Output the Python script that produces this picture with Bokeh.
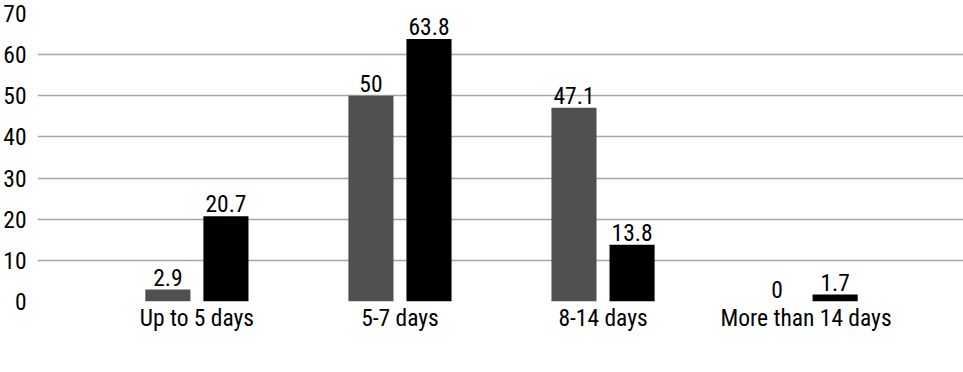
from bokeh.plotting import figure
from bokeh.models import ColumnDataSource, FactorRange, Range1d, FixedTicker, Legend, LegendItem
from bokeh.transform import dodge
from bokeh.core.properties import value
from bokeh.embed import file_html
from bokeh.resources import INLINE

categories = ["Up to 5 days", "5-7 days", "8-14 days", "More than 14 days"]
gen_x = [2.9, 50, 47.1, 0]
gen_y = [20.7, 63.8, 13.8, 1.7]
series_names = ["Generation X", "Generation Y"]
y_ticks = [0, 10, 20, 30, 40, 50, 60, 70]

FONT = "Roboto Condensed"
FS = "23.5px"
COL_X = "#505050"
COL_Y = "#000000"

src = ColumnDataSource(dict(
    cat=categories,
    gx=gen_x,
    gy=gen_y,
    lx=[f"{v:g}" for v in gen_x],
    ly=[f"{v:g}" for v in gen_y],
))

p = figure(
    x_range=FactorRange(*categories, range_padding=0.285, range_padding_units="absolute"),
    y_range=Range1d(0, 70),
    frame_width=928, frame_height=288,
    output_backend="svg", toolbar_location=None,
    min_border_top=13, min_border_left=0, min_border_right=0, min_border_bottom=0,
)
p.outline_line_color = None

rx = p.vbar(x=dodge("cat", -0.143, range=p.x_range), top="gx", width=0.222, source=src,
            fill_color=COL_X, line_color=None)
ry = p.vbar(x=dodge("cat", 0.143, range=p.x_range), top="gy", width=0.222, source=src,
            fill_color=COL_Y, line_color=None)

p.text(x=dodge("cat", -0.143, range=p.x_range), y="gx", text="lx", source=src,
       text_align="center", text_baseline="bottom", y_offset=-4,
       text_font=value(FONT), text_font_size=FS, text_color="#000000")
p.text(x=dodge("cat", 0.143, range=p.x_range), y="gy", text="ly", source=src,
       text_align="center", text_baseline="bottom", y_offset=-4,
       text_font=value(FONT), text_font_size=FS, text_color="#000000")

p.xgrid.grid_line_color = None
p.ygrid.grid_line_color = "#a6a6a6"
p.ygrid.grid_line_width = 1.3
p.yaxis.ticker = FixedTicker(ticks=y_ticks)

for ax in (p.xaxis[0], p.yaxis[0]):
    ax.axis_line_color = None
    ax.major_tick_line_color = None
    ax.minor_tick_line_color = None
    ax.major_label_text_font = FONT
    ax.major_label_text_font_size = FS
    ax.major_label_text_color = "#000000"
p.yaxis.major_label_standoff = 5
p.xaxis.major_label_standoff = -4
p.xaxis.major_label_text_line_height = 0.9

legend = Legend(items=[LegendItem(label=series_names[0], renderers=[rx]),
                       LegendItem(label=series_names[1], renderers=[ry])],
                orientation="horizontal", location="center")
legend.label_text_font = FONT
legend.label_text_font_size = "23px"
legend.label_text_line_height = 0.9
legend.label_text_color = "#000000"
legend.glyph_width = 18
legend.glyph_height = 18
legend.label_height = 18
legend.spacing = 22
legend.padding = 0
legend.margin = 0
legend.border_line_color = None
legend.background_fill_alpha = 0
legend.label_standoff = 10
p.add_layout(legend, "below")

open("out.html", "w").write(file_html(p, INLINE))
